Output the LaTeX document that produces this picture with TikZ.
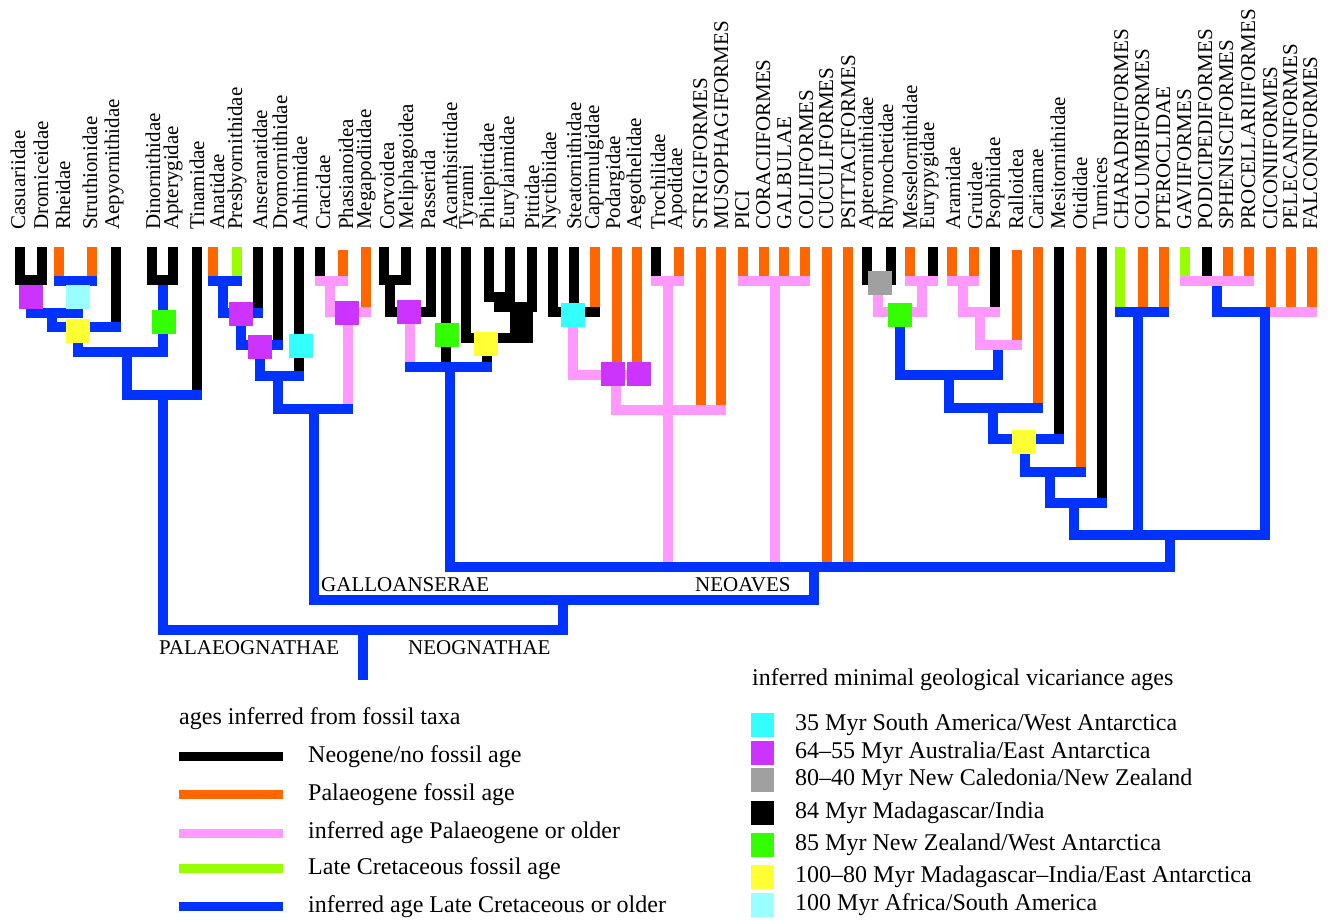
\documentclass[tikz,border=0pt]{standalone}
\usepackage{fontspec}
\setmainfont{Liberation Serif}
\definecolor{cOr}{HTML}{FF6600}
\definecolor{cPk}{HTML}{FF99FF}
\definecolor{cLg}{HTML}{99FF00}
\definecolor{cBl}{HTML}{0033FF}
\definecolor{sCy}{HTML}{33FFFF}
\definecolor{sPu}{HTML}{CC33FF}
\definecolor{sGy}{HTML}{A0A0A0}
\definecolor{sGr}{HTML}{33FF00}
\definecolor{sYe}{HTML}{FFFF33}
\definecolor{sLc}{HTML}{99FFFF}
\tikzset{
  tbar/.style={line width=10pt},
  lab/.style={rotate=90, anchor=base west, inner sep=0pt, font=\fontsize{21}{21}\selectfont},
  clade/.style={anchor=west, inner sep=0pt, font=\fontsize{21}{21}\selectfont},
  legt/.style={anchor=west, inner sep=0pt, font=\fontsize{24}{24}\selectfont},
  sq/.style={minimum size=24pt, inner sep=0pt, draw=none},
  lsq/.style={minimum width=23pt, minimum height=24pt, inner sep=0pt, draw=none}
}
\newcommand\VB[4]{\draw[tbar,#1] (#2,#3) -- (#2,#4);}
\newcommand\HB[4]{\draw[tbar,#1] ({#3-5},#2) -- ({#4+5},#2);}
\begin{document}
\begin{tikzpicture}[x=1pt,y=-1pt]
\useasboundingbox (0,0) rectangle (1332,920);
% ---------- taxon labels
\foreach \n/\x in {Casuariidae/25, Dromiceidae/48, Rheidae/70, Struthionidae/97, Aepyornithidae/119,
  Dinornithidae/160, Apterygidae/178, Tinamidae/204, Anatidae/224, Presbyornithidae/242,
  Anseranatidae/267, Dromornithidae/287, Anhimidae/307, Cracidae/330, Phasianoidea/353,
  Megapodiidae/371, Corvoidea/394, Meliphagoidea/413, Passerida/435, Acanthisittidae/457,
  Tyranni/473, Philepittidae/494, Eurylaimidae/514, Pittidae/539, Nyctibiidae/556,
  Steatornithidae/581, Caprimulgidae/599, Podargidae/620, Aegothelidae/641, Trochilidae/665,
  Apodidae/682, STRIGIFORMES/707, MUSOPHAGIFORMES/728, PICI/749, CORACIIFORMES/770,
  GALBULAE/791, COLIIFORMES/813, CUCULIFORMES/833, PSITTACIFORMES/855, Apterornithidae/873,
  Rhynochetidae/893, Messelornithidae/917, Eurypygidae/934, Aramidae/960, Gruidae/982,
  Psophiidae/1000, Ralloidea/1023, Cariamae/1043, Mesitornithidae/1065, Otididae/1087,
  Turnices/1107, CHARADRIIFORMES/1128, COLUMBIFORMES/1149, PTEROCLIDAE/1170, GAVIIFORMES/1191,
  PODICIPEDIFORMES/1212, SPHENISCIFORMES/1233, PROCELLARIIFORMES/1255, CICONIIFORMES/1277,
  PELECANIFORMES/1297, FALCONIFORMES/1317}
  \node[lab] (tax-\x) at (\x,230) {\n};
% ---------- vertical segments
% Palaeognathae
\VB{black}{20}{247}{280} \VB{black}{42}{247}{280}
\VB{cBl}{31}{285}{313}
\VB{cOr}{59}{247}{281} \VB{cOr}{92}{247}{281}
\VB{cBl}{78}{281}{313}
\VB{cBl}{52}{313}{327} \VB{black}{116}{247}{327}
\VB{cBl}{78}{327}{352}
\VB{black}{152}{247}{280} \VB{black}{173}{247}{280}
\VB{cBl}{163}{285}{352}
\VB{cBl}{127}{352}{395} \VB{black}{197}{247}{395}
\VB{cBl}{163}{395}{630}
% Galloanserae
\VB{cOr}{213}{247}{281} \VB{cLg}{237}{247}{281}
\VB{cBl}{223}{281}{313} \VB{black}{258}{247}{313}
\VB{cBl}{241}{313}{345} \VB{black}{278}{247}{345}
\VB{cBl}{260}{345}{376} \VB{black}{299}{247}{376}
\VB{cBl}{278}{376}{409}
\VB{black}{320}{247}{281} \VB{cOr}{343}{250}{281}
\VB{cPk}{330}{281}{312} \VB{cOr}{366}{247}{312}
\VB{cPk}{348}{312}{409}
\VB{cBl}{314}{409}{600}
% Passeriformes
\VB{black}{384}{247}{280} \VB{black}{406}{247}{280}
\VB{black}{390}{280}{312} \VB{black}{431}{247}{312}
\VB{cPk}{410}{312}{367}
\VB{black}{446}{247}{367}
\VB{black}{489}{247}{297} \VB{black}{510}{247}{297}
\VB{black}{499}{297}{307} \VB{black}{532}{247}{307}
\fill[black] (510,302) rectangle (533,343);
\VB{black}{466}{247}{338}
\VB{black}{487}{338}{367}
\VB{cBl}{450}{367}{567}
% Caprimulgi, Apodi, etc.
\VB{black}{553}{247}{312} \VB{black}{574}{247}{312} \VB{cOr}{595}{247}{312}
\VB{cPk}{573}{315}{375}
\VB{cOr}{617}{247}{375} \VB{cOr}{637}{247}{375}
\VB{cPk}{616}{375}{410}
\VB{cOr}{701}{247}{410} \VB{cOr}{721}{247}{410}
\VB{black}{656}{247}{281} \VB{cOr}{679}{247}{281}
\VB{cPk}{668}{281}{567}
\VB{cOr}{743}{247}{281} \VB{cOr}{764}{247}{281} \VB{cOr}{784}{247}{281} \VB{cOr}{805}{247}{281}
\VB{cPk}{775}{281}{567}
\VB{cOr}{827}{247}{567} \VB{cOr}{848}{247}{567}
% Gruiformes and others
\VB{black}{867}{247}{280} \VB{black}{891}{247}{280}
\VB{cPk}{878}{283}{312}
\VB{cOr}{910}{247}{281} \VB{black}{933}{247}{281}
\VB{cPk}{922}{281}{312}
\VB{cBl}{900}{315}{375}
\VB{cOr}{952}{247}{281} \VB{cOr}{974}{247}{281}
\VB{cPk}{963}{281}{312} \VB{black}{995}{247}{312}
\VB{cPk}{980}{312}{345} \VB{cOr}{1017}{250}{345}
\VB{cBl}{998}{350}{375}
\VB{cBl}{949}{375}{408} \VB{cOr}{1038}{247}{408}
\VB{cBl}{993}{408}{439} \VB{black}{1059}{247}{439}
\VB{cBl}{1025}{439}{472} \VB{cOr}{1081}{247}{472}
\VB{cBl}{1050}{472}{503} \VB{black}{1102}{247}{503}
\VB{cBl}{1074}{503}{535}
\VB{cLg}{1120}{247}{312} \VB{cOr}{1143}{247}{312} \VB{cOr}{1164}{247}{312}
\VB{cBl}{1138}{312}{535}
\VB{cLg}{1185}{247}{281} \VB{black}{1207}{247}{281} \VB{cOr}{1228}{247}{281} \VB{cOr}{1249}{247}{281}
\VB{cBl}{1217}{286}{312}
\VB{cOr}{1271}{247}{312} \VB{cOr}{1291}{247}{312} \VB{cOr}{1312}{247}{312}
\VB{cBl}{1265}{312}{535}
\VB{cBl}{1170}{535}{567}
\VB{cBl}{814}{567}{600}
\VB{cBl}{563}{600}{630}
\VB{cBl}{363}{630}{680}
% ---------- horizontal segments
\HB{black}{280}{20}{42}
\HB{cBl}{281}{59}{92}
\HB{cBl}{313}{31}{78}
\HB{cBl}{327}{52}{116}
\HB{black}{280}{152}{173}
\HB{cBl}{352}{78}{163}
\HB{cBl}{395}{127}{197}
\HB{cBl}{281}{213}{237}
\HB{cBl}{313}{223}{258}
\HB{cBl}{345}{241}{278}
\HB{cBl}{376}{260}{299}
\HB{cPk}{281}{320}{343}
\HB{cPk}{312}{330}{366}
\HB{cBl}{409}{278}{348}
\HB{black}{280}{384}{406}
\HB{black}{312}{390}{431}
\HB{black}{297}{489}{510}
\HB{black}{307}{499}{532}
\HB{black}{338}{466}{528}
\HB{cBl}{367}{410}{487}
\HB{black}{312}{553}{595}
\HB{cPk}{375}{573}{637}
\HB{cPk}{410}{616}{721}
\HB{cPk}{281}{656}{679}
\HB{cPk}{281}{743}{805}
\HB{black}{280}{867}{891}
\HB{cPk}{281}{910}{933}
\HB{cPk}{312}{878}{922}
\HB{cPk}{281}{952}{974}
\HB{cPk}{312}{963}{995}
\HB{cPk}{345}{980}{1017}
\HB{cBl}{375}{900}{998}
\HB{cBl}{408}{949}{1038}
\HB{cBl}{439}{993}{1059}
\HB{cBl}{472}{1025}{1081}
\HB{cBl}{503}{1050}{1102}
\HB{cBl}{312}{1120}{1164}
\HB{cPk}{281}{1185}{1249}
\HB{cPk}{312}{1275}{1312}
\HB{cBl}{312}{1217}{1265}
\HB{cBl}{535}{1074}{1265}
\HB{cBl}{567}{450}{1170}
\HB{cBl}{600}{314}{814}
\HB{cBl}{630}{163}{563}
% ---------- vicariance squares
\node[sq, fill=sPu] (q1) at (31,297) {};
\node[sq, fill=sLc] (q2) at (78,297) {};
\node[sq, fill=sYe] (q3) at (78,331) {};
\node[sq, fill=sGr] (q4) at (164,322) {};
\node[sq, fill=sPu] (q5) at (241,314) {};
\node[sq, fill=sPu] (q6) at (260,347) {};
\node[sq, fill=sCy] (q7) at (301,346) {};
\node[sq, fill=sPu] (q8) at (347,313) {};
\node[sq, fill=sPu] (q9) at (409,312) {};
\node[sq, fill=sGr] (q10) at (447,335) {};
\node[sq, fill=sYe] (q11) at (486,344) {};
\node[sq, fill=sCy] (q12) at (573,315) {};
\node[sq, fill=sPu] (q13) at (613,374) {};
\node[sq, fill=sPu] (q14) at (639,374) {};
\node[sq, fill=sGy] (q15) at (880,283) {};
\node[sq, fill=sGr] (q16) at (900,315) {};
\node[sq, fill=sYe] (q17) at (1024,442) {};
% ---------- clade names
\node[clade] (gal) at (321,585) {GALLOANSERAE};
\node[clade] (neo) at (695,585) {NEOAVES};
\node[clade] (pal) at (159,648) {PALAEOGNATHAE};
\node[clade] (ngn) at (408,648) {NEOGNATHAE};
% ---------- legend 1
\node[legt] (l1t) at (179,719) {ages inferred from fossil taxa};
\foreach \c/\y/\t [count=\i] in {black/756.5/Neogene\slash no fossil age, cOr/794.5/Palaeogene fossil age,
  cPk/833/inferred age Palaeogene or older, cLg/868.5/Late Cretaceous fossil age,
  cBl/906.5/inferred age Late Cretaceous or older}{
  \draw[line width=9pt,\c] (179,\y) -- (283,\y);
  \node[legt] (l1-\i) at (308,\y) {\t};
}
% ---------- legend 2
\node[legt] (l2t) at (752,680) {inferred minimal geological vicariance ages};
\foreach \c/\y/\t [count=\i] in {sCy/725/35 Myr South America\slash West Antarctica,
  sPu/753/64–55 Myr Australia\slash East Antarctica,
  sGy/780/80–40 Myr New Caledonia\slash New Zealand,
  black/813/84 Myr Madagascar\slash India,
  sGr/845/85 Myr New Zealand\slash West Antarctica,
  sYe/877/100–80 Myr Madagascar–India\slash East Antarctica,
  sLc/905/100 Myr Africa\slash South America}{
  \node[lsq, fill=\c] (k\i) at (762.5,\y) {};
  \node[legt] (l2-\i) at (795,\y) {\t};
}
\end{tikzpicture}
\end{document}
